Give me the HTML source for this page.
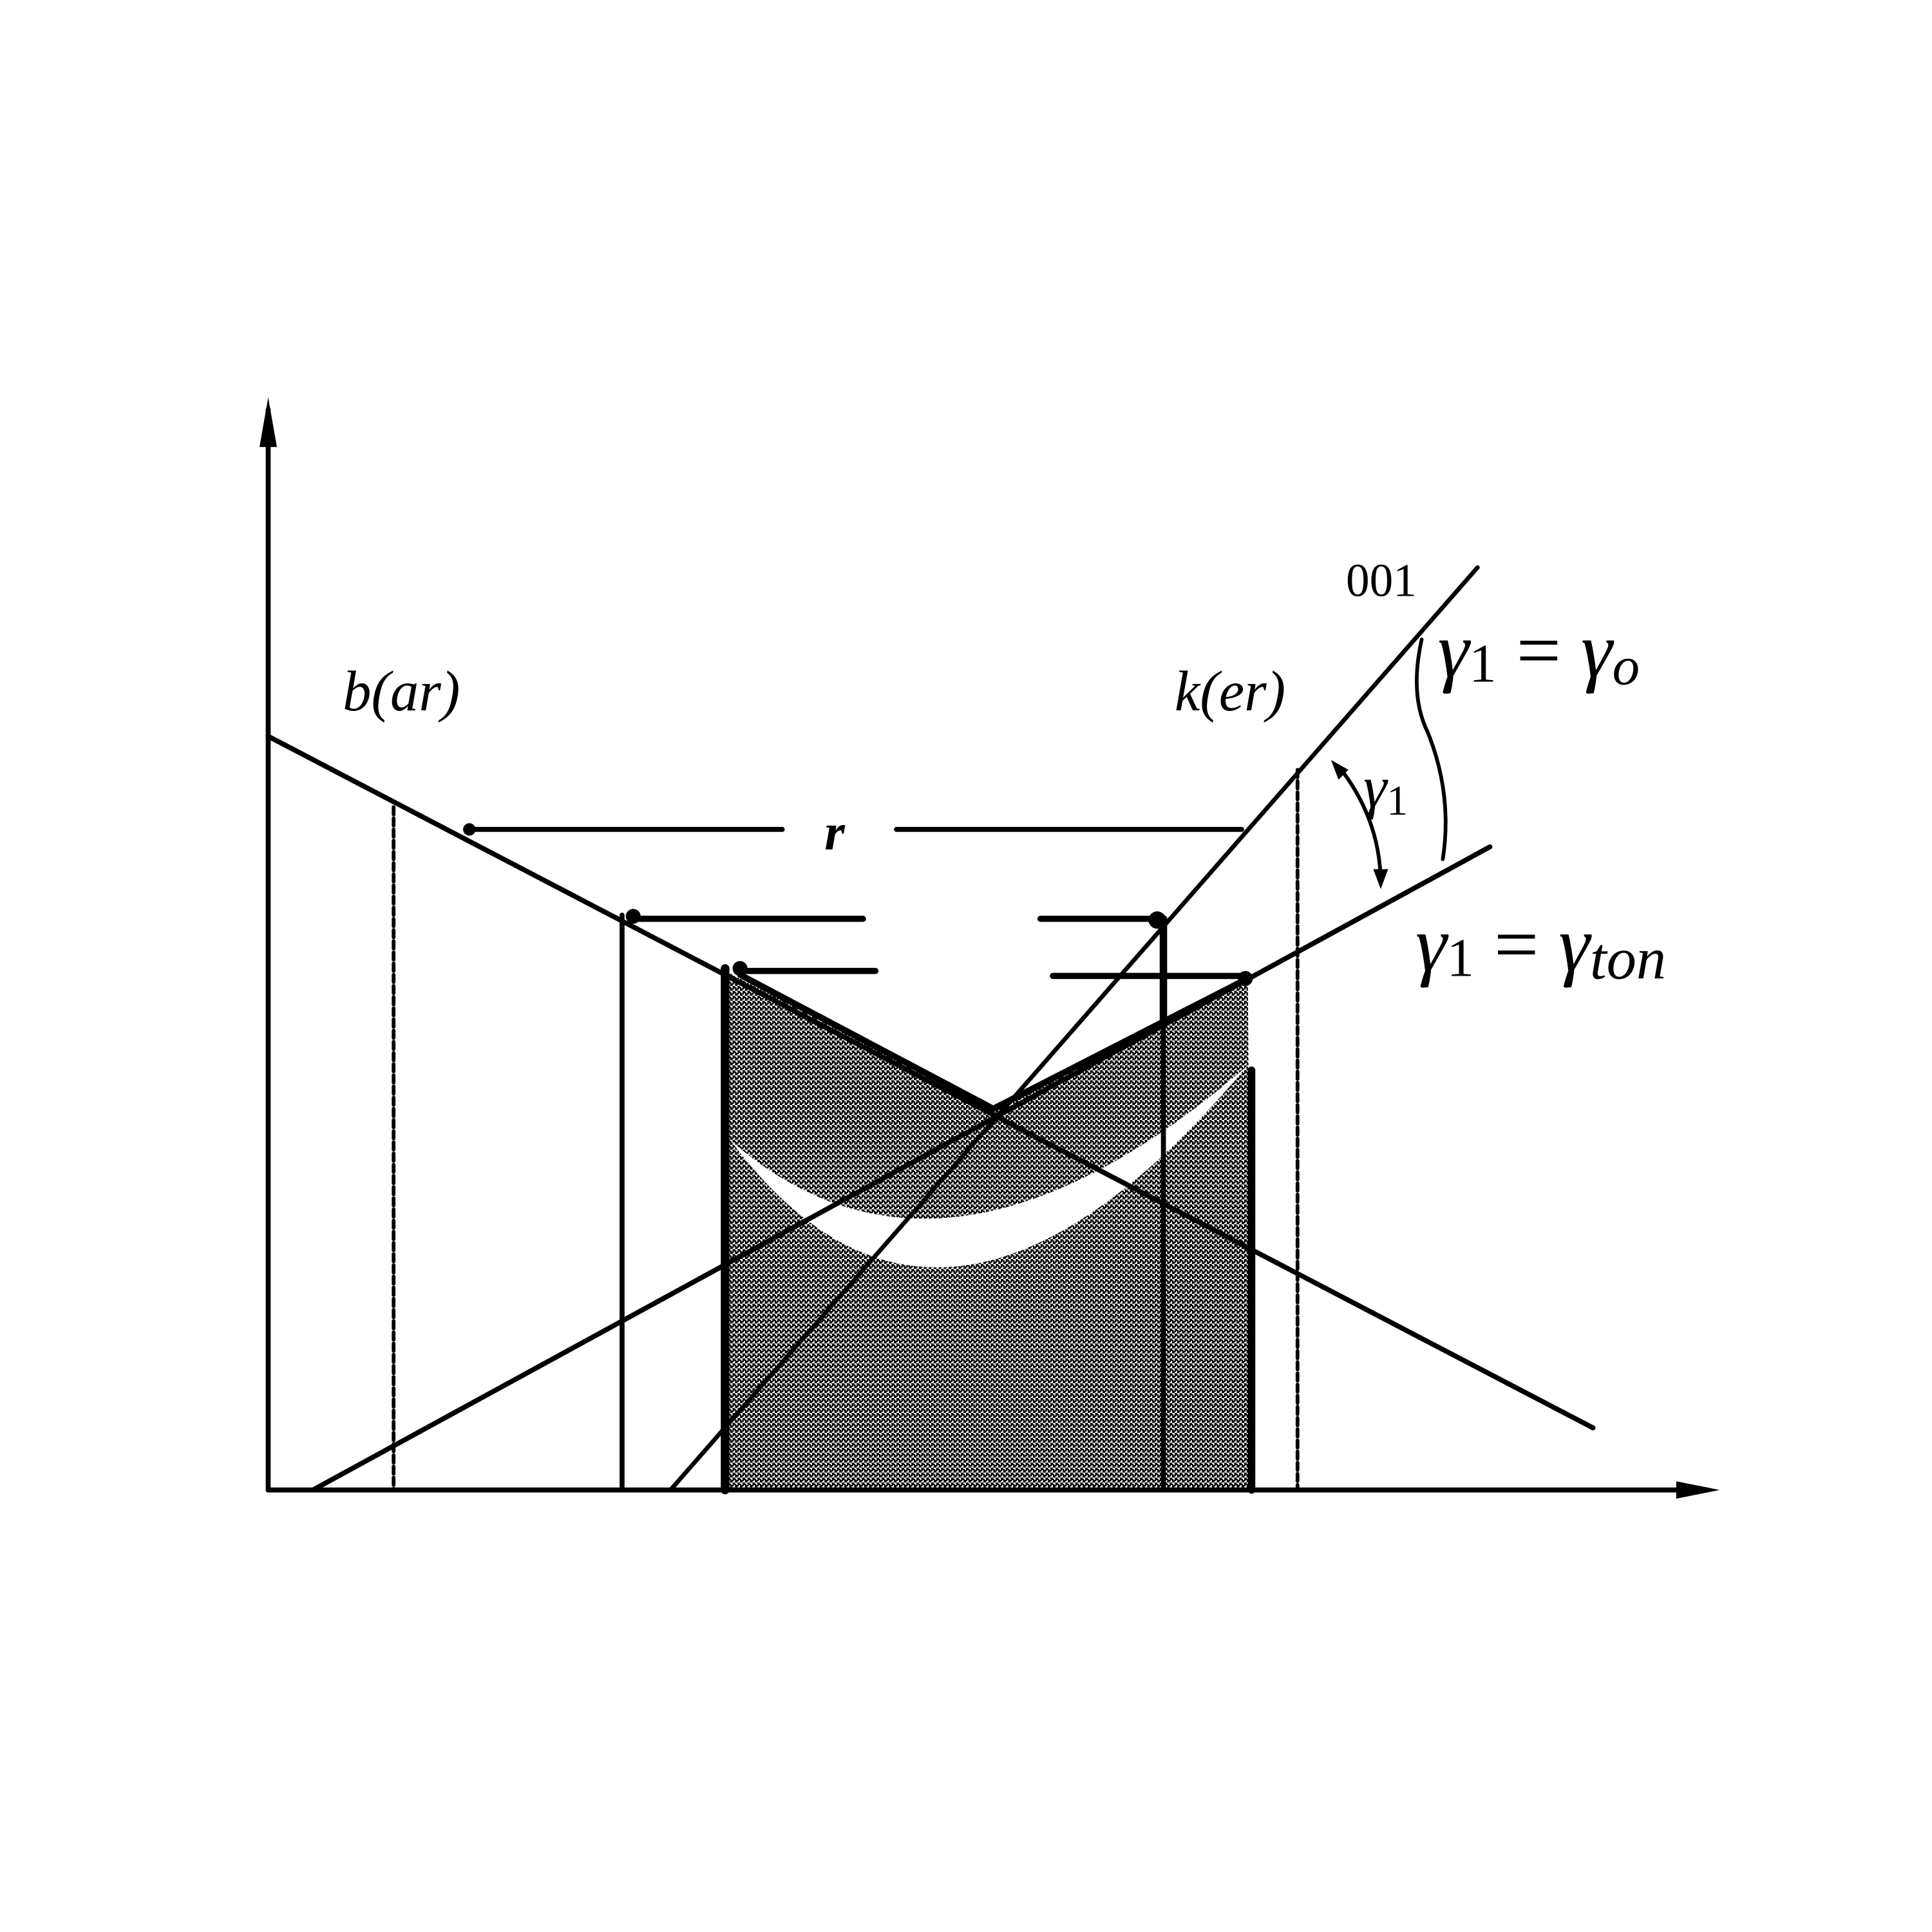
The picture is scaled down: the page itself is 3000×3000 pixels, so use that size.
<!DOCTYPE html>
<html><head><style>html,body{margin:0;padding:0;background:#fff}svg{display:block}</style></head>
<body>
<svg width="3000" height="3000" viewBox="0 0 1556 1556" xmlns="http://www.w3.org/2000/svg">
<defs>
<pattern id="dots" width="4" height="4" patternUnits="userSpaceOnUse">
<rect width="4" height="4" fill="#fff"/>
<rect x="0" y="0" width="2" height="2" fill="#000"/>
<rect x="2" y="2" width="2" height="2" fill="#000"/>
<rect x="2" y="0" width="1" height="1" fill="#000"/>
<rect x="0" y="3" width="1" height="1" fill="#000"/>
</pattern>
</defs>
<polygon points="584,782 800,893 1005,788 1008,1200 584,1200" fill="url(#dots)"/>
<path d="M588,918 Q760,1150 1005,858 Q760,1070 588,918 Z" fill="#fff"/>
<g stroke="#000" fill="none" stroke-linecap="round">
<line x1="216" y1="330" x2="216" y2="1200" stroke-width="4"/>
<line x1="216" y1="1200" x2="1375" y2="1200" stroke-width="4"/>
<line x1="317" y1="650" x2="317" y2="1200" stroke-width="3" stroke-dasharray="6,3"/>
<line x1="1045" y1="620" x2="1045" y2="1200" stroke-width="3" stroke-dasharray="6,3"/>
<line x1="216" y1="593" x2="1283" y2="1150" stroke-width="4"/>
<line x1="252" y1="1200" x2="1200" y2="682" stroke-width="4"/>
<line x1="540" y1="1200" x2="1190" y2="457" stroke-width="3.5"/>
<line x1="501" y1="737" x2="501" y2="1200" stroke-width="4"/>
<line x1="584" y1="780" x2="584" y2="1200" stroke-width="7"/>
<line x1="937" y1="740" x2="937" y2="1200" stroke-width="4"/>
<line x1="937" y1="740" x2="937" y2="822" stroke-width="6"/>
<line x1="1008" y1="862" x2="1008" y2="1200" stroke-width="6"/>
<line x1="375" y1="668" x2="630" y2="668" stroke-width="4"/>
<line x1="722" y1="668" x2="1000" y2="668" stroke-width="4"/>
<line x1="510" y1="740" x2="695" y2="740" stroke-width="5"/>
<line x1="838" y1="740" x2="935" y2="740" stroke-width="5"/>
<line x1="596" y1="782" x2="705" y2="782" stroke-width="5"/>
<line x1="848" y1="786" x2="1005" y2="786" stroke-width="5"/>
<line x1="596" y1="785" x2="800" y2="893" stroke-width="5"/>
<line x1="800" y1="893" x2="1005" y2="788" stroke-width="5"/>
<path d="M1145,515 Q1135,560 1150,590 Q1170,640 1162,692" stroke-width="3"/>
<path d="M1078,617 Q1112,660 1112,712" stroke-width="3"/>
</g>
<g fill="#000">
<polygon points="216,320 209,360 223,360"/>
<polygon points="1385,1200 1350,1193 1350,1207"/>
<polygon points="1072,612 1086,620 1078,628"/>
<polygon points="1112,716 1106,700 1118,700"/>
<circle cx="378" cy="668" r="5"/><circle cx="510" cy="738" r="6"/>
<circle cx="596" cy="780" r="6"/><circle cx="932" cy="741" r="7"/>
<circle cx="1003" cy="788" r="6"/>
</g>
<g font-family="Liberation Serif, serif" fill="#000">
<text x="276" y="572" font-size="46" font-style="italic">b(ar)</text>
<text x="946" y="572" font-size="46" font-style="italic">k(er)</text>
<text x="1084" y="480" font-size="38">001</text>
<text x="664" y="684" font-size="42" font-weight="bold" font-style="italic">r</text>
<text x="1158" y="545" font-size="64" font-style="italic">γ<tspan font-style="normal" font-size="44" dy="4">1</tspan><tspan font-style="normal" dy="-4"> = </tspan>γ<tspan font-size="44" dy="6">o</tspan></text>
<text x="1098" y="650" font-size="48" font-style="italic">γ<tspan font-style="normal" font-size="34" dy="6">1</tspan></text>
<text x="1140" y="782" font-size="64" font-style="italic">γ<tspan font-style="normal" font-size="44" dy="4">1</tspan><tspan font-style="normal" dy="-4"> = </tspan>γ<tspan font-size="48" dy="6">ton</tspan></text>
</g>
</svg>
</body></html>
